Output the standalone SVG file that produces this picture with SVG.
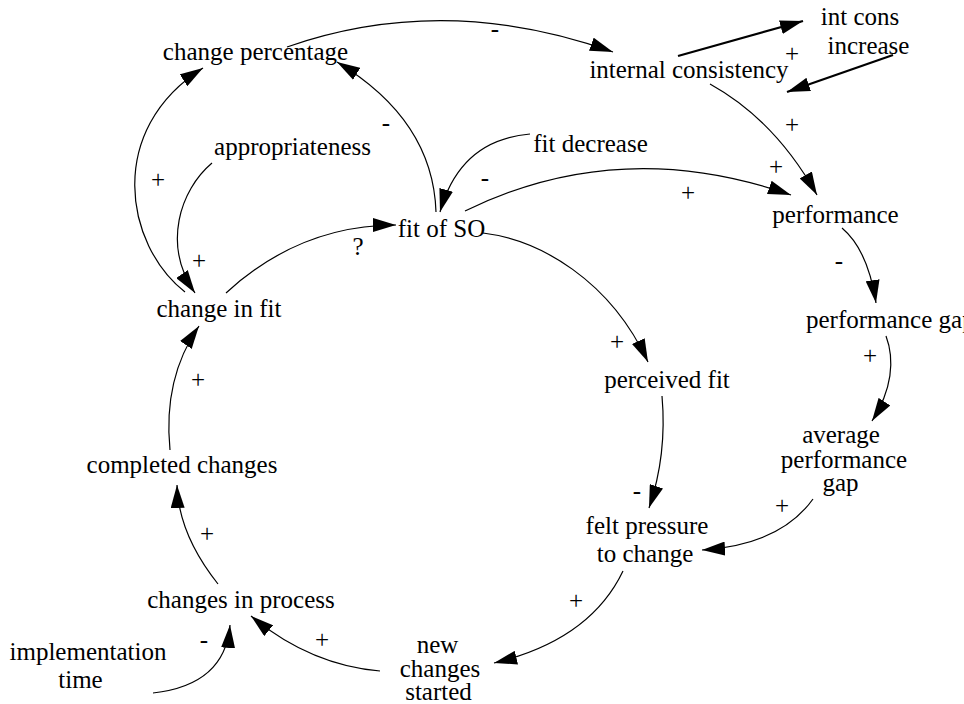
<svg xmlns="http://www.w3.org/2000/svg" width="964" height="704" viewBox="0 0 964 704">
<style>
text{font-family:"Liberation Serif","Times New Roman",serif;font-size:25px;fill:#000;text-anchor:middle}
.c{fill:none;stroke:#000;stroke-width:1.2;marker-end:url(#ah)}
.t{fill:none;stroke:#000;stroke-width:2.2;marker-end:url(#ah)}
</style>
<defs>
<marker id="ah" viewBox="0 0 23 14" refX="23" refY="7" markerWidth="23" markerHeight="14" markerUnits="userSpaceOnUse" orient="auto">
<path d="M0,0 L23,7 L0,14 z" fill="#000"/>
</marker>
</defs>
<rect width="964" height="704" fill="#fff"/>
<g id="connectors">
<path class="c" d="M287,47 Q445,-8 613,52"/>
<path class="t" d="M678,56 L803,21"/>
<path class="t" d="M893,55 L787,92"/>
<path class="c" d="M710,84 Q775,120 817,195"/>
<path class="c" d="M465,211 Q620,135 791,195"/>
<path class="c" d="M436,212 C434,150 400,100 337,62"/>
<path class="c" d="M530,134 Q460,140 440,212"/>
<path class="c" d="M212,163 C180,190 162,245 195,293"/>
<path class="c" d="M185,292 C125,245 105,130 203,68"/>
<path class="c" d="M226,293 Q300,225 396,225"/>
<path class="c" d="M483,233 C540,240 610,280 648,362"/>
<path class="c" d="M842,228 Q868,250 876,303"/>
<path class="c" d="M886,336 C895,360 892,390 872,421"/>
<path class="c" d="M813,499 Q780,545 702,550"/>
<path class="c" d="M662,396 C665,430 662,470 649,508"/>
<path class="c" d="M623,571 Q590,640 494,663"/>
<path class="c" d="M380,671 Q310,665 251,616"/>
<path class="c" d="M153,693 Q225,685 230,625"/>
<path class="c" d="M218,584 C195,555 178,520 177,485"/>
<path class="c" d="M170,450 C166,410 172,365 199,326"/>
</g>
<g id="polarities">
<text x="495" y="37">-</text>
<text x="792" y="62">+</text>
<text x="792" y="133">+</text>
<text x="776" y="175">+</text>
<text x="688" y="201">+</text>
<text x="386" y="131">-</text>
<text x="158" y="188">+</text>
<text x="199" y="269">+</text>
<text x="358" y="255">?</text>
<text x="485" y="186">-</text>
<text x="839" y="269">-</text>
<text x="870" y="364">+</text>
<text x="617" y="350">+</text>
<text x="782" y="514">+</text>
<text x="637" y="499">-</text>
<text x="576" y="609">+</text>
<text x="198" y="388">+</text>
<text x="207" y="542">+</text>
<text x="204" y="648">-</text>
<text x="322" y="648">+</text>
</g>
<g id="change-percentage"><text x="255.5" y="60">change percentage</text></g>
<g id="internal-consistency"><text x="689" y="78">internal consistency</text></g>
<g id="int-cons-increase"><text x="860" y="25">int cons</text><text x="868.5" y="54">increase</text></g>
<g id="appropriateness"><text x="292.5" y="155">appropriateness</text></g>
<g id="fit-decrease"><text x="590.5" y="152">fit decrease</text></g>
<g id="fit-of-so"><text x="441.5" y="237">fit of SO</text></g>
<g id="performance"><text x="835.5" y="223">performance</text></g>
<g id="performance-gap"><text x="806" y="328" style="text-anchor:start">performance gap</text></g>
<g id="change-in-fit"><text x="219" y="317">change in fit</text></g>
<g id="perceived-fit"><text x="667" y="388">perceived fit</text></g>
<g id="average-performance-gap"><text x="841" y="443">average</text><text x="844" y="468">performance</text><text x="840.5" y="491">gap</text></g>
<g id="completed-changes"><text x="182" y="473">completed changes</text></g>
<g id="felt-pressure"><text x="647" y="534">felt pressure</text><text x="645" y="562">to change</text></g>
<g id="changes-in-process"><text x="241" y="608">changes in process</text></g>
<g id="implementation-time"><text x="88" y="660">implementation</text><text x="80.5" y="688">time</text></g>
<g id="new-changes-started"><text x="437.5" y="653">new</text><text x="440" y="677">changes</text><text x="438.5" y="700">started</text></g>
</svg>
